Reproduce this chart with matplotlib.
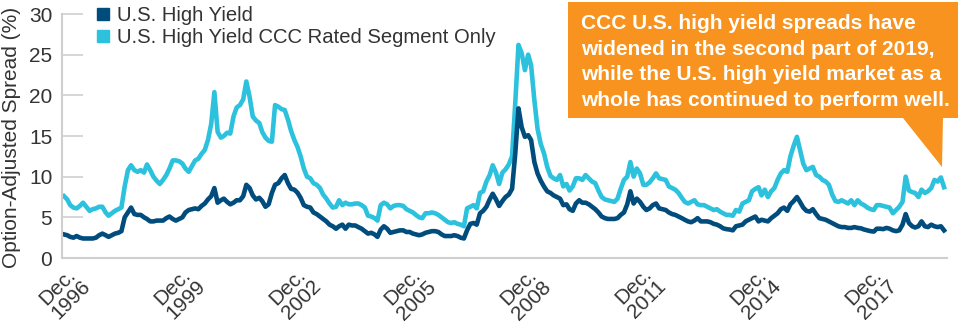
import pandas as pd
import matplotlib
matplotlib.use('Agg')
import matplotlib.pyplot as plt
from matplotlib.lines import Line2D
from matplotlib.patches import Polygon

plt.rcParams['font.family'] = ['Liberation Sans', 'DejaVu Sans']

# monthly option-adjusted spreads (%), Dec. 1996 onwards
hy = [
    2.9, 2.8, 2.6, 2.5, 2.7, 2.5, 2.4, 2.4, 2.4, 2.4, 2.5, 2.8,
    3.0, 2.8, 2.6, 2.8, 3.0, 3.1, 3.3, 5.0, 5.6, 6.2, 5.4, 5.3,
    5.3, 5.0, 4.8, 4.5, 4.5, 4.6, 4.6, 4.6, 4.9, 5.1, 4.8, 4.6,
    4.8, 5.0, 5.6, 5.9, 6.0, 6.1, 6.0, 6.4, 6.7, 7.2, 7.6, 8.6,
    6.8, 7.1, 7.3, 6.9, 6.6, 6.8, 7.1, 7.1, 7.6, 9.0, 8.6, 7.7,
    7.2, 7.4, 7.0, 6.3, 6.6, 8.0, 9.0, 9.2, 9.8, 10.2, 9.2, 8.5,
    8.4, 8.0, 7.4, 6.5, 6.3, 6.2, 5.6, 5.4, 5.1, 4.8, 4.5, 4.1,
    3.9, 3.6, 3.9, 4.1, 3.6, 4.1, 4.0, 4.0, 3.8, 3.6, 3.3, 3.0,
    3.1, 2.9, 2.6, 3.5, 3.9, 3.6, 3.1, 3.2, 3.3, 3.4, 3.4, 3.2,
    3.2, 3.0, 2.9, 2.8, 2.9, 3.1, 3.2, 3.3, 3.3, 3.2, 2.9, 2.7,
    2.7, 2.7, 2.8, 2.7, 2.5, 2.4, 3.4, 4.2, 4.3, 4.1, 5.5, 5.8,
    6.3, 7.2, 7.9, 7.2, 6.4, 7.0, 7.5, 7.8, 8.5, 12.8, 18.4, 16.1,
    14.9, 15.1, 14.5, 11.8, 10.4, 9.5, 8.8, 8.2, 8.0, 7.7, 7.5, 7.3,
    6.5, 6.6, 6.0, 5.8, 6.7, 7.1, 6.8, 6.8, 6.6, 6.3, 6.0, 5.6,
    5.1, 4.9, 4.8, 4.8, 4.8, 4.9, 5.3, 5.6, 6.6, 8.2, 6.7, 7.3,
    6.9, 6.3, 5.9, 6.1, 6.5, 6.7, 6.1, 6.0, 5.9, 5.6, 5.4, 5.3,
    5.1, 4.9, 4.7, 4.5, 4.4, 4.6, 4.9, 4.5, 4.5, 4.5, 4.4, 4.2,
    4.1, 3.9, 3.65, 3.55, 3.5, 3.4, 3.9, 4.0, 4.1, 4.5, 4.7, 4.9,
    5.1, 4.5, 4.7, 4.6, 4.5, 4.9, 5.2, 5.5, 6.0, 6.2, 5.8, 6.6,
    7.0, 7.5, 6.9, 6.2, 5.8, 5.7, 6.0, 5.4, 4.9, 4.8, 4.7, 4.5,
    4.3, 4.1, 3.9, 3.8, 3.8, 3.7, 3.7, 3.8, 3.7, 3.65, 3.5, 3.4,
    3.3, 3.25, 3.6, 3.6, 3.55, 3.7, 3.6, 3.4, 3.3, 3.4, 4.1, 5.4,
    4.3, 3.9, 3.75, 3.9, 4.5, 3.9, 3.8, 4.1, 3.9, 3.8, 3.9, 3.4,
]
ccc = [
    7.6, 7.2, 6.5, 6.2, 6.1, 6.4, 6.8, 6.3, 5.8, 6.0, 6.1, 6.3,
    6.3, 5.6, 5.2, 5.5, 5.8, 6.0, 6.2, 8.8, 10.8, 11.4, 10.8, 10.6,
    10.8, 10.5, 11.5, 10.8, 10.0, 9.5, 9.1, 9.6, 10.2, 11.0, 12.0, 12.0,
    11.9, 11.6, 11.0, 10.6, 11.3, 12.0, 12.2, 12.8, 13.3, 14.5, 16.5, 20.4,
    15.5, 14.8, 15.0, 15.4, 15.3, 17.4, 18.5, 18.8, 19.5, 21.7, 19.8, 17.4,
    16.9, 16.6, 15.5, 14.8, 14.4, 14.3, 18.8, 18.6, 18.3, 18.2, 17.0, 15.6,
    14.5, 13.6, 12.5, 11.0, 10.0, 9.8, 9.2, 9.0, 8.6, 7.8, 7.3, 6.7,
    6.2, 6.3, 7.1, 6.5, 6.8, 6.6, 6.6, 6.7, 6.7, 6.5, 6.2, 5.2,
    5.1, 4.9, 4.6, 6.5, 6.8, 6.6, 6.1, 6.4, 6.5, 6.5, 6.4, 6.0,
    5.8, 5.6, 5.3, 5.0, 4.9, 5.5, 5.5, 5.6, 5.5, 5.3, 5.0, 4.7,
    4.4, 4.3, 4.4, 4.2, 4.1, 3.9, 6.1, 6.3, 6.5, 6.1, 8.0, 8.2,
    9.4, 10.2, 11.4, 10.5, 9.1, 10.5, 10.9, 11.5, 12.5, 19.0, 26.2, 25.2,
    23.1, 25.0, 23.7, 19.4, 15.9, 14.0, 12.9, 11.2, 10.1, 9.8, 9.6, 10.2,
    8.8, 9.1, 8.3, 8.8, 9.8, 9.8, 9.6, 10.2, 9.8, 9.4, 9.2, 8.3,
    7.5, 7.2, 7.1, 7.0, 6.9, 7.3, 8.5, 9.6, 10.0, 11.8, 10.0, 11.0,
    10.4, 9.0, 9.0, 9.3, 9.8, 10.4, 9.8, 9.7, 9.6, 8.8, 8.6, 8.4,
    8.0, 7.4, 6.9, 6.7, 6.9, 7.1, 6.6, 6.5, 6.5, 6.3, 6.1, 5.9,
    6.0, 5.7, 5.5, 5.3, 5.3, 5.2, 5.9, 5.7, 6.7, 6.9, 7.1, 8.2,
    8.5, 8.7, 7.7, 8.4, 7.5, 8.2, 8.6, 9.6, 10.4, 10.8, 10.6, 12.5,
    13.8, 14.9, 13.3, 11.6, 10.8, 11.0, 11.2, 10.2, 10.0, 9.6, 9.4, 9.0,
    7.8, 7.0, 6.9, 7.1, 6.9, 6.7, 7.1, 6.5, 7.1, 6.7, 6.5, 6.2,
    6.0, 5.9, 6.5, 6.5, 6.4, 6.3, 6.2, 5.5, 5.9, 6.3, 6.9, 10.0,
    8.3, 8.1, 8.0, 7.5, 8.4, 8.0, 8.2, 8.6, 9.6, 9.4, 9.9, 8.7,
]
series_names = ['U.S. High Yield', 'U.S. High Yield CCC Rated Segment Only']
tick_years = [1996, 1999, 2002, 2005, 2008, 2011, 2014, 2017]
note = ('CCC U.S. high yield spreads have\n'
        'widened in the second part of 2019,\n'
        'while the U.S. high yield market as a\n'
        'whole has continued to perform well.')

dark = '#004c7d'
light = '#2cc1dd'
orange = '#f7931e'
grey = '#cfcfcf'
txt = '#333333'

dates = pd.date_range('1996-12-31', periods=len(hy), freq='ME')

fig = plt.figure(figsize=(9.6, 3.31), dpi=100)
W, H = 960, 331
ax = fig.add_axes([62 / W, 73 / H, 885 / W, 244 / H])

ax.plot(dates, ccc, color=light, lw=3.3, solid_joinstyle='round')
ax.plot(dates, hy, color=dark, lw=3.3, solid_joinstyle='round')

ax.set_ylim(0, 30)
ax.set_yticks(range(0, 31, 5))
ax.set_xlim(dates[0] - pd.Timedelta(days=19), dates[-1] + pd.Timedelta(days=28))
ticks = [pd.Timestamp(f'{y}-12-31') for y in tick_years]
ax.set_xticks(ticks)
ax.set_xticklabels([f'Dec.\n{y}' for y in tick_years], rotation=45, ha='center',
                   fontsize=15, color=txt, linespacing=1.0)

for s in ['top', 'right']:
    ax.spines[s].set_visible(False)
for s in ['left', 'bottom']:
    ax.spines[s].set_color(grey)
    ax.spines[s].set_linewidth(1.5)

ax.tick_params(axis='x', length=0, pad=4)
ax.tick_params(axis='y', direction='in', length=15, width=1.2, color=grey,
               labelsize=15, labelcolor=txt, pad=7)

fig.text(12 / W, 1 - 137 / H, 'Option-Adjusted Spread (%)', rotation=90,
         ha='center', va='center', fontsize=15, color=txt)

handles = [Line2D([], [], ls='', marker='s', markersize=9, color=c) for c in (dark, light)]
fig.legend(handles, series_names, loc='upper left', bbox_to_anchor=(85 / W, 1 + 4 / H),
           frameon=False, fontsize=14.6, handlelength=0.8, handletextpad=0.3,
           labelspacing=0.15, borderpad=0, labelcolor=txt)

# orange call-out with tail pointing at the latest CCC reading
box = [(568, 2), (958, 2), (958, 118), (943, 118), (942, 167), (903, 118), (568, 118)]
fig.patches.append(Polygon([(x / W, 1 - y / H) for x, y in box], closed=True,
                           transform=fig.transFigure, facecolor=orange, edgecolor='none'))
fig.text(581 / W, 1 - 62 / H, note, ha='left', va='center', fontsize=15,
         fontweight='bold', color='white', linespacing=1.45)

fig.savefig('out.png', dpi=100)
